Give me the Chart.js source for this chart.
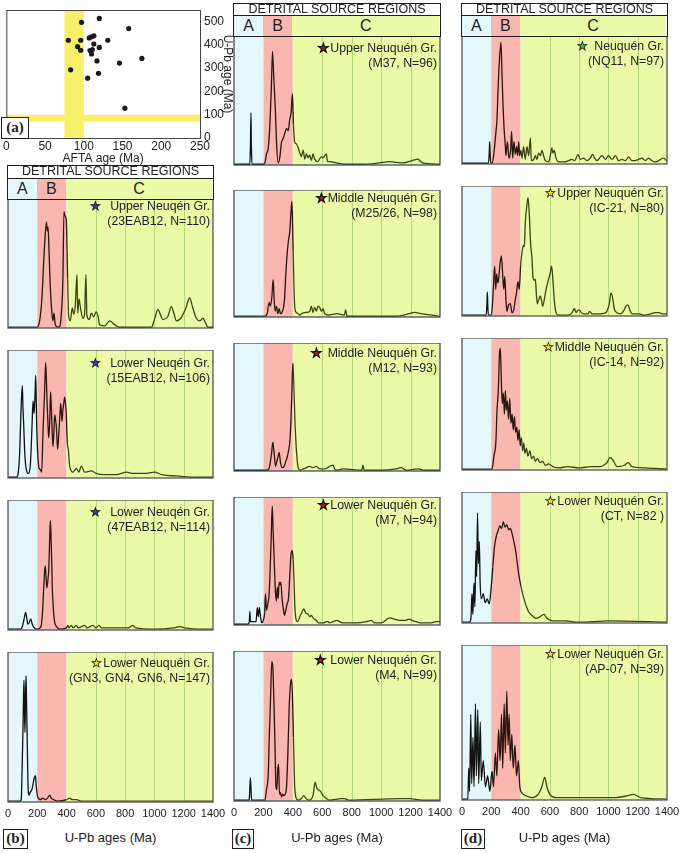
<!DOCTYPE html>
<html>
<head>
<meta charset="utf-8">
<script src="https://cdn.jsdelivr.net/npm/chart.js@4.4.0/dist/chart.umd.min.js"></script>
<style>
  body { margin: 0; background: #fff; font-family: "Liberation Sans", Arial, sans-serif; color: #222; }
  #fig { position: relative; width: 685px; height: 853px; overflow: hidden; }
  .pane { position: absolute; }
  .pane canvas { display: block; }
  .box { position: absolute; box-sizing: border-box; border: 1.5px solid #1e1e1e; background: #fff; }
  .hdr { font-size: 12.5px; text-align: center; white-space: nowrap; }
  .cell { position: absolute; top: 0; bottom: 0; font-size: 16px; text-align: center; }
  .note { position: absolute; font-size: 12.3px; line-height: 14.5px; text-align: right; white-space: nowrap; color: #1e1e1e; }
  .star { font-size: 12px; -webkit-text-stroke: 0.7px #111; }
  .star.dark { -webkit-text-stroke: 1.3px #111; }
  .axt { position: absolute; font-size: 13px; white-space: nowrap; transform: translateX(-50%); }
  .tag { font-family: "Liberation Serif", serif; font-weight: bold; font-size: 15px; text-align: center; }
</style>
</head>
<body>
<div id="fig"></div>
<script>
// ---------- panel (a): AFTA vs U-Pb ages ----------
const aftaAges = [97, 120, 158, 80, 96, 107, 110, 113, 131, 92, 113, 120, 96, 108, 111, 110, 117, 146, 175, 83, 119, 105, 153];
const upbAgesA = [497, 514, 470, 420, 420, 430, 435, 439, 420, 393, 404, 389, 377, 376, 380, 361, 331, 322, 342, 293, 278, 257, 128];
const aftaTicks = [0, 50, 100, 150, 200, 250];
const upbTicksA = [0, 100, 200, 300, 400, 500];
const aftaBand = [75, 100];
const upbBand = [70, 100];

// ---------- detrital source regions ----------
const regionNames = ['A', 'B', 'C'];
const regionBounds = [0, 200, 400, 1400];
const ageTicks = [0, 200, 400, 600, 800, 1000, 1200, 1400];
const gridAges = [600, 800, 1000, 1200];

// probability density curves, [U-Pb age (Ma), % of panel height]
const b1 = [[0,0],[200,0],[210,2],[220,8],[233,25],[244,52],[253,70],[262,82],[269,75],[274,78],[280,60],[289,31],[300,11],[307,5],[314,11],[323,2],[341,0],[355,1],[365,12],[375,38],[382,90],[389,87],[398,84],[407,38],[414,9],[425,5],[439,15],[450,10],[460,18],[471,41],[476,11],[485,22],[495,15],[512,7],[523,10],[532,41],[539,9],[555,6],[569,11],[585,8],[601,12],[614,9],[626,2],[660,1],[694,5],[728,2],[762,0],[980,0],[1000,6],[1024,14],[1040,10],[1058,6],[1090,8],[1115,16],[1135,10],[1149,5],[1180,7],[1215,15],[1240,23],[1262,15],[1286,7],[1310,5],[1331,7],[1350,3],[1366,0],[1400,0]];
const b2 = [[0,0],[60,0],[68,2],[80,20],[88,50],[98,72],[102,55],[107,42],[114,20],[121,9],[130,4],[140,3],[152,9],[158,22],[164,40],[171,60],[178,50],[184,63],[189,80],[193,60],[196,40],[203,18],[212,7],[221,6],[230,4],[239,36],[250,67],[257,90],[262,78],[266,62],[272,45],[278,31],[285,44],[291,67],[296,55],[300,42],[307,24],[313,35],[319,49],[325,45],[330,40],[339,22],[348,36],[355,50],[360,58],[365,50],[369,44],[375,53],[381,58],[387,63],[393,58],[398,49],[405,27],[412,22],[421,9],[444,4],[467,7],[484,4],[501,9],[523,4],[569,5],[603,3],[650,2],[740,2],[810,4],[853,3],[930,3],[1001,4],[1050,2],[1150,1],[1300,0],[1400,0]];
const b3 = [[0,0],[90,0],[100,3],[110,8],[120,13],[128,9],[135,4],[145,5],[155,8],[165,4],[180,1],[200,0],[225,2],[235,12],[244,32],[250,45],[255,49],[260,40],[265,32],[269,34],[274,40],[278,45],[282,60],[285,71],[289,84],[293,75],[296,63],[300,45],[303,30],[308,20],[312,12],[318,6],[325,3],[340,1],[353,0],[398,1],[410,3],[416,1],[432,3],[445,1],[465,3],[480,1],[525,3],[540,1],[580,3],[600,1],[620,3],[640,1],[700,1],[820,1],[853,3],[870,1],[1000,0],[1130,1],[1172,2],[1210,1],[1300,0],[1400,0]];
const b4 = [[0,0],[85,0],[91,2],[96,20],[102,46],[106,70],[109,81],[112,65],[116,46],[119,65],[123,84],[126,70],[130,48],[134,25],[137,10],[143,4],[152,6],[164,8],[172,12],[178,15],[187,17],[193,10],[200,4],[207,2],[220,1],[239,2],[255,1],[270,2],[285,4],[295,2],[312,1],[340,0],[400,1],[420,2],[440,1],[467,1],[500,0],[1400,0]];

const c1 = [[0,0],[108,0],[112,15],[115,40],[118,15],[122,0],[205,0],[210,1],[221,8],[233,13],[244,31],[253,57],[262,88],[269,71],[275,57],[282,40],[289,17],[300,1],[312,6],[323,17],[334,20],[345,24],[357,28],[368,26],[379,35],[388,40],[397,55],[404,31],[413,17],[424,16],[436,13],[447,9],[458,6],[470,11],[481,4],[492,8],[503,5],[514,7],[526,3],[537,8],[548,4],[570,2],[593,6],[604,5],[628,8],[635,2],[650,2],[695,1],[740,0],[870,0],[985,1],[1057,2],[1150,1],[1215,3],[1249,4],[1280,1],[1400,0]];
const c2 = [[0,0],[210,0],[225,2],[239,11],[248,8],[257,15],[266,29],[273,13],[280,4],[289,8],[298,2],[307,6],[316,2],[330,4],[343,13],[352,33],[361,49],[370,60],[379,67],[386,80],[393,91],[397,80],[402,51],[409,17],[415,5],[424,3],[435,2],[447,1],[458,2],[488,3],[515,4],[526,8],[537,3],[548,7],[560,4],[571,8],[582,7],[594,4],[605,6],[616,2],[640,1],[700,2],[750,1],[759,5],[768,0],[870,0],[1100,0],[1192,2],[1226,3],[1270,2],[1328,1],[1400,0]];
const c3 = [[0,0],[230,0],[240,2],[255,13],[264,22],[273,13],[282,3],[291,7],[300,11],[307,14],[316,6],[327,2],[341,3],[352,7],[361,10],[370,15],[379,22],[386,36],[393,60],[400,84],[406,69],[415,36],[424,16],[436,2],[447,0],[470,1],[492,2],[515,3],[537,2],[560,3],[582,1],[616,1],[650,3],[673,4],[684,1],[700,0],[740,1],[868,0],[876,4],[885,0],[1000,0],[1100,1],[1136,2],[1170,0],[1250,1],[1300,0],[1400,0]];
const c4 = [[0,0],[95,0],[104,2],[108,10],[112,2],[150,2],[158,13],[165,6],[172,13],[180,6],[190,1],[199,3],[208,9],[214,24],[221,11],[230,16],[239,24],[246,44],[253,69],[260,93],[266,73],[273,51],[280,29],[287,18],[294,29],[300,20],[307,33],[312,31],[318,33],[327,20],[334,13],[343,7],[352,11],[361,16],[370,20],[379,38],[386,53],[395,58],[402,51],[409,29],[415,11],[424,3],[435,2],[447,6],[460,9],[474,12],[487,9],[503,8],[515,6],[526,7],[537,5],[560,3],[575,1],[605,1],[628,2],[639,2],[650,1],[673,2],[700,3],[718,2],[740,1],[830,1],[900,2],[933,3],[955,1],[1000,1],[1030,3],[1057,5],[1090,4],[1125,3],[1160,3],[1192,4],[1210,3],[1237,2],[1280,1],[1330,1],[1373,2],[1400,2]];
const c5 = [[0,0],[100,0],[105,2],[111,15],[115,9],[120,0],[210,0],[221,7],[233,18],[239,40],[248,67],[257,93],[264,89],[271,67],[278,40],[285,9],[291,7],[298,22],[303,24],[309,4],[316,5],[323,2],[330,4],[339,3],[348,4],[357,9],[366,31],[375,62],[384,78],[391,81],[397,71],[404,42],[411,13],[420,2],[436,0],[458,1],[474,3],[490,1],[510,0],[537,3],[551,12],[560,9],[571,7],[587,6],[605,3],[628,1],[650,0],[730,1],[752,1],[780,0],[1130,1],[1190,1],[1280,0],[1400,0]];

const d1 = [[0,0],[180,0],[186,8],[189,17],[192,8],[196,0],[205,0],[216,6],[228,20],[239,35],[246,57],[255,80],[266,95],[273,71],[280,46],[287,28],[294,17],[300,6],[310,17],[321,4],[332,10],[339,25],[346,4],[355,17],[364,7],[373,13],[380,6],[387,17],[394,6],[403,10],[410,4],[421,13],[432,3],[444,13],[455,6],[467,20],[473,2],[490,3],[501,6],[512,3],[523,8],[535,6],[546,10],[557,6],[569,2],[592,1],[603,6],[614,12],[621,8],[630,10],[642,4],[660,1],[700,1],[728,2],[750,3],[770,2],[792,7],[808,3],[830,4],[853,2],[876,4],[892,7],[906,4],[922,2],[945,5],[956,6],[980,3],[1000,6],[1025,3],[1047,6],[1070,2],[1092,3],[1115,2],[1138,5],[1160,2],[1183,2],[1206,3],[1229,4],[1252,2],[1275,4],[1297,2],[1320,1],[1343,2],[1375,4],[1400,2]];
const d2 = [[0,0],[165,0],[170,8],[173,18],[176,8],[180,0],[200,0],[210,12],[216,25],[223,38],[230,20],[237,32],[244,25],[250,28],[260,40],[269,46],[276,35],[285,20],[292,30],[300,12],[307,3],[318,8],[330,9],[341,2],[353,4],[364,12],[373,18],[382,26],[391,20],[400,38],[410,49],[419,54],[426,53],[432,71],[444,86],[451,91],[460,77],[469,55],[478,44],[485,29],[492,27],[501,28],[508,16],[514,9],[524,12],[535,15],[542,12],[551,7],[562,12],[574,20],[585,25],[603,33],[612,38],[621,27],[630,12],[642,2],[660,0],[728,0],[752,2],[767,5],[780,2],[792,4],[803,4],[815,2],[830,1],[860,1],[871,3],[890,1],[940,1],[982,2],[1006,9],[1017,17],[1028,14],[1040,5],[1057,2],[1080,1],[1102,3],[1120,7],[1133,8],[1150,3],[1165,1],[1210,1],[1240,0],[1286,1],[1320,2],[1343,2],[1375,1],[1400,1]];
const d3 = [[0,0],[205,0],[218,10],[232,22],[239,45],[248,60],[256,88],[262,92],[268,70],[275,50],[282,58],[290,42],[296,60],[303,45],[310,52],[318,38],[326,54],[334,35],[342,42],[350,30],[358,40],[366,28],[374,32],[382,22],[390,30],[398,18],[406,24],[414,14],[422,20],[430,12],[440,16],[450,10],[464,14],[475,8],[490,10],[500,6],[515,8],[533,5],[550,6],[570,3],[590,4],[620,2],[660,1],[720,2],[800,1],[880,2],[940,2],[990,5],[1010,9],[1030,7],[1060,2],[1110,3],[1135,5],[1160,2],[1250,1],[1400,0]];
const d4 = [[0,0],[55,0],[62,5],[68,22],[74,6],[82,30],[88,12],[95,55],[100,35],[106,84],[112,45],[118,62],[124,30],[132,18],[145,22],[158,15],[172,18],[186,14],[198,25],[210,42],[222,58],[234,66],[246,70],[258,74],[270,72],[282,77],[294,73],[306,75],[318,71],[330,72],[342,68],[354,62],[366,55],[378,45],[390,35],[402,28],[414,22],[426,17],[440,12],[455,8],[470,6],[490,4],[505,3],[530,4],[560,6],[580,3],[620,1],[700,1],[800,0],[1000,1],[1400,0]];
const d5 = [[0,0],[40,0],[46,20],[52,5],[60,55],[66,10],[75,40],[82,8],[92,62],[98,15],[108,58],[114,10],[125,50],[132,12],[145,25],[160,8],[175,15],[190,5],[205,18],[215,8],[228,30],[238,15],[250,45],[260,25],[270,55],[278,20],[288,62],[296,30],[306,70],[314,35],[322,55],[330,25],[340,42],[350,20],[362,35],[372,15],[385,25],[395,8],[410,4],[440,2],[480,1],[520,3],[545,8],[565,14],[580,8],[600,3],[640,1],[700,1],[1050,1],[1120,2],[1170,3],[1220,1],[1400,0]];

const labelsB = [['Upper Neuqén Gr.', '(23EAB12, N=110)'], ['Lower Neuqén Gr.', '(15EAB12, N=106)'], ['Lower Neuqén Gr.', '(47EAB12, N=114)'], ['Lower Neuquén Gr.', '(GN3, GN4, GN6, N=147)']];
const labelsC = [['Upper Neuquén Gr.', '(M37, N=96)'], ['Middle Neuquén Gr.', '(M25/26, N=98)'], ['Middle Neuquén Gr.', '(M12, N=93)'], ['Lower Neuquén Gr.', '(M7, N=94)'], ['Lower Neuquén Gr.', '(M4, N=99)']];
const labelsD = [['Neuquén Gr.', '(NQ11, N=97)'], ['Upper Neuquén Gr.', '(IC-21, N=80)'], ['Middle Neuquén Gr.', '(IC-14, N=92)'], ['Lower Neuquén Gr.', '(CT, N=82 )'], ['Lower Neuquén Gr.', '(AP-07, N=39)']];

// ---------- styling / layout ----------
const REGION_FILL = ['#e3f7fc', '#f9b7b0', '#ebfaa6'];
const GRID_GREEN = 'rgba(120, 175, 70, 0.45)';
const STAR = { blue: '#2c3fa6', red: '#d0141c', yellow: '#f4e21e', green: '#42c23c' };
const PADX = 18;
const TICK_H = 22;

const COLUMNS = [
  { tag: '(b)', curves: [b1, b2, b3, b4], labels: labelsB, stars: ['blue', 'blue', 'blue', 'yellow'],
    gaps: [9, 9, 9, 1], noteTop: [0, 6, 5, 4], left: 8, right: 213, header: [165, 178, 199],
    panels: [[199, 350], [350, 500], [500, 652], [652, 802]], frame: '#555', tagBox: [3, 829, 25, 20] },
  { tag: '(c)', curves: [c1, c2, c3, c4, c5], labels: labelsC, stars: ['red', 'red', 'red', 'red', 'red'],
    gaps: [1, 1, 6, 1, 4], noteTop: [5, 1, 3, 1, 2], left: 234, right: 440, header: [3, 15, 36],
    panels: [[36, 187], [190, 339], [343, 493], [497, 647], [651, 801]], frame: '#3f4f57', tagBox: [232, 829, 22, 20] },
  { tag: '(d)', curves: [d1, d2, d3, d4, d5], labels: labelsD, stars: ['green', 'yellow', 'yellow', 'yellow', 'yellow'],
    gaps: [6, 1, 1, 1, 1], noteTop: [3, 0, 2, 2, 2], left: 462, right: 667, header: [3, 15, 36],
    panels: [[36, 186], [186, 338], [338, 492], [492, 645], [645, 800]], frame: '#555', tagBox: [461, 829, 24, 20] }
];

const fig = document.getElementById('fig');

function addDiv(cls, left, top, width, height, html) {
  const el = document.createElement('div');
  el.className = cls;
  el.style.left = left + 'px';
  el.style.top = top + 'px';
  if (width != null) el.style.width = width + 'px';
  if (height != null) el.style.height = height + 'px';
  if (html != null) el.innerHTML = html;
  fig.appendChild(el);
  return el;
}

function addCanvas(left, top, width, height) {
  const div = addDiv('pane', left, top, width, height);
  const canvas = document.createElement('canvas');
  canvas.width = width;
  canvas.height = height;
  div.appendChild(canvas);
  return canvas;
}

const bandPlugin = {
  id: 'bands',
  beforeDatasetsDraw(chart) {
    const { ctx, chartArea: a, scales: { x } } = chart;
    ctx.save();
    regionNames.forEach((name, i) => {
      const x0 = x.getPixelForValue(regionBounds[i]);
      const x1 = x.getPixelForValue(regionBounds[i + 1]);
      ctx.fillStyle = REGION_FILL[i];
      ctx.fillRect(x0, a.top, x1 - x0, a.bottom - a.top);
    });
    ctx.strokeStyle = GRID_GREEN;
    ctx.lineWidth = 1;
    gridAges.forEach(v => {
      const px = Math.round(x.getPixelForValue(v)) + 0.5;
      ctx.beginPath();
      ctx.moveTo(px, a.top);
      ctx.lineTo(px, a.bottom);
      ctx.stroke();
    });
    ctx.restore();
  },
  afterDraw(chart, args, opts) {
    const { ctx, chartArea: a } = chart;
    ctx.save();
    ctx.strokeStyle = opts.frame || '#555';
    ctx.lineWidth = 1.3;
    ctx.strokeRect(a.left, a.top, a.right - a.left, a.bottom - a.top);
    ctx.restore();
  }
};

function curveColor(c) {
  const age = c.p0.parsed.x;
  if (age < 200) return '#121212';
  if (age < 400) return '#2b1610';
  return '#3a4714';
}

function makePanel(col, idx) {
  const [top, bottom] = col.panels[idx];
  const isLast = idx === col.panels.length - 1;
  const width = col.right - col.left + 2 * PADX;
  const height = bottom - top + (isLast ? TICK_H : 0);
  const canvas = addCanvas(col.left - PADX, top, width, height);
  const chart = new Chart(canvas, {
    type: 'line',
    data: {
      datasets: [{
        data: col.curves[idx].map(p => ({ x: p[0], y: p[1] })),
        borderWidth: 1.3,
        pointRadius: 0,
        cubicInterpolationMode: 'monotone',
        segment: { borderColor: curveColor },
        borderColor: '#3a4714'
      }]
    },
    options: {
      responsive: false,
      animation: false,
      events: [],
      layout: { padding: { left: PADX, right: PADX, top: 0, bottom: 0 }, autoPadding: false },
      plugins: { legend: { display: false }, tooltip: { enabled: false }, bands: { frame: col.frame } },
      scales: {
        x: {
          type: 'linear', min: 0, max: 1400, display: isLast,
          afterBuildTicks: s => { s.ticks = ageTicks.map(v => ({ value: v })); },
          afterFit: s => { s.height = TICK_H; },
          grid: { display: false, drawTicks: false }, border: { display: false },
          ticks: { autoSkip: false, maxRotation: 0, padding: 5, color: '#222',
                   callback: v => String(v),
                   font: { family: '"Liberation Sans", Arial, sans-serif', size: 11 } }
        },
        y: { display: false, min: -0.6, max: 100 }
      }
    },
    plugins: [bandPlugin]
  });

  // sample note: star + formation, sample id
  const [line1, line2] = col.labels[idx];
  const kind = col.stars[idx];
  const star = `<span class="star${kind === 'red' ? ' dark' : ''}" style="color:${STAR[kind]};margin-right:${col.gaps[idx]}px">&#9733;</span>`;
  const note = addDiv('note', 0, top + col.noteTop[idx], null, null, `${star}${line1}<br>${line2}`);
  note.style.left = 'auto';
  note.style.right = (685 - col.right + 3) + 'px';
  return { chart, canvasLeft: col.left - PADX };
}

COLUMNS.forEach(col => {
  const panels = col.panels.map((p, i) => makePanel(col, i));
  const [hTop, hMid, hBot] = col.header;
  const w = col.right - col.left + 2;
  addDiv('box hdr', col.left - 1, hTop, w, hMid - hTop + 1, 'DETRITAL SOURCE REGIONS').style.lineHeight = (hMid - hTop - 2) + 'px';

  // A/B/C row aligned on the age scale of the top panel
  const row = addDiv('box', col.left - 1, hMid, w, hBot - hMid + 1);
  const { chart, canvasLeft } = panels[0];
  const sx = chart.scales.x;
  regionNames.forEach((name, i) => {
    const x0 = canvasLeft + sx.getPixelForValue(regionBounds[i]) - (col.left - 1) - 1.5;
    const x1 = canvasLeft + sx.getPixelForValue(regionBounds[i + 1]) - (col.left - 1) - 1.5;
    const cell = document.createElement('div');
    cell.className = 'cell';
    cell.style.left = Math.max(0, x0) + 'px';
    cell.style.width = (Math.min(w - 3, x1) - Math.max(0, x0)) + 'px';
    cell.style.background = REGION_FILL[i];
    cell.style.lineHeight = (hBot - hMid - 2) + 'px';
    cell.textContent = name;
    row.appendChild(cell);
  });

  addDiv('axt', (col.left + col.right) / 2, 830, null, null, 'U-Pb ages (Ma)');
  const [tx, ty, tw, th] = col.tagBox;
  addDiv('box tag', tx, ty, tw, th, col.tag).style.lineHeight = (th - 3) + 'px';
});

// ---------- panel (a) ----------
const aBandPlugin = {
  id: 'aBands',
  beforeDatasetsDraw(chart) {
    const { ctx, chartArea: a, scales: { x, y } } = chart;
    ctx.save();
    ctx.fillStyle = '#f8ef6a';
    const x0 = x.getPixelForValue(aftaBand[0]), x1 = x.getPixelForValue(aftaBand[1]);
    ctx.fillRect(x0, a.top, x1 - x0, a.bottom - a.top);
    const y0 = y.getPixelForValue(upbBand[1]), y1 = y.getPixelForValue(upbBand[0]);
    ctx.fillRect(a.left, y0, a.right - a.left, y1 - y0);
    ctx.restore();
  },
  afterDraw(chart) {
    const { ctx, chartArea: a } = chart;
    ctx.save();
    ctx.strokeStyle = '#444';
    ctx.lineWidth = 1;
    ctx.strokeRect(a.left + 0.5, a.top + 0.5, a.right - a.left, a.bottom - a.top);
    ctx.restore();
  }
};

const aCanvas = addCanvas(0, 0, 233, 165);
new Chart(aCanvas, {
  type: 'scatter',
  data: {
    datasets: [{
      data: aftaAges.map((v, i) => ({ x: v, y: upbAgesA[i] })),
      pointRadius: 2.6,
      pointBackgroundColor: '#1b1b1b',
      pointBorderWidth: 0
    }]
  },
  options: {
    responsive: false,
    animation: false,
    events: [],
    layout: { padding: { left: 3, top: 3, right: 0, bottom: 0 }, autoPadding: false },
    plugins: { legend: { display: false }, tooltip: { enabled: false } },
    scales: {
      x: {
        type: 'linear', min: 0, max: 250,
        afterBuildTicks: s => { s.ticks = aftaTicks.map(v => ({ value: v })); },
        afterFit: s => { s.height = 27; },
        grid: { display: false, drawTicks: false }, border: { display: false },
        ticks: { autoSkip: false, maxRotation: 0, padding: 3, color: '#222', font: { size: 12, lineHeight: 1 } },
        title: { display: true, text: 'AFTA age (Ma)', color: '#222', font: { size: 12, lineHeight: 1 }, padding: { top: 0, bottom: 0 } }
      },
      y: {
        position: 'right', min: 0, max: 550,
        afterBuildTicks: s => { s.ticks = upbTicksA.map(v => ({ value: v })); },
        afterFit: s => { s.width = 33; },
        grid: { display: false, drawTicks: false }, border: { display: false },
        ticks: { padding: 4, color: '#222', font: { size: 12, lineHeight: 1 } },
        title: { display: true, text: 'U-Pb age (Ma)', color: '#222', font: { size: 12, lineHeight: 1 }, padding: { top: 0, bottom: 0 } }
      }
    }
  },
  plugins: [aBandPlugin]
});
addDiv('box tag', 1, 117, 28, 22, '(a)').style.lineHeight = '18px';
</script>
</body>
</html>
